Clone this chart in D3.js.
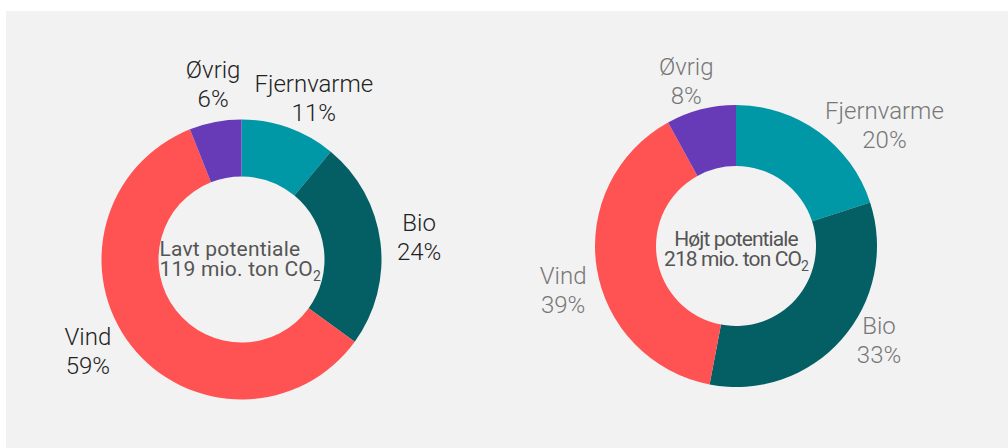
<!DOCTYPE html>
<html>
<head>
<meta charset="utf-8">
<script src="https://cdn.jsdelivr.net/npm/d3@7"></script>
<style>
  body { margin: 0; background: #fff; }
  svg { display: block; }
</style>
</head>
<body>
<svg id="chart" width="1008" height="448"></svg>
<script>
// Two donuts: low vs high potential, share per sector
const categories = ["Fjernvarme", "Bio", "Vind", "Øvrig"]
const lavtValues = [11, 24, 59, 6]
const hoejtValues = [20, 33, 39, 8]
const titles = ["Lavt potentiale", "Højt potentiale"]
const totals = ["119", "218"]

const WIDTH = 1008
const HEIGHT = 448

function drawDonut(svg, values, opts) {
  var color = d3.scaleOrdinal()
    .domain(categories)
    .range(["#0097a7", "#045f65", "#ff5252", "#673ab7"])

  var pie = d3.pie().sort(null).value(d => d.value)
  var data = pie(categories.map((c, i) => ({ name: c, value: values[i] })))

  var arc = d3.arc().innerRadius(opts.inner).outerRadius(opts.outer)
  var labelArc = d3.arc().innerRadius(opts.labelR).outerRadius(opts.labelR)

  var g = svg.append("g")
    .attr("transform", `translate(${opts.cx},${opts.cy})`)

  g.selectAll("path")
    .data(data)
    .join("path")
    .attr("d", arc)
    .attr("fill", d => color(d.data.name))

  // labels sit roughly on one radius, nudged a bit like the original
  var labels = g.selectAll("text.lbl")
    .data(data)
    .join("text")
    .attr("class", "lbl")
    .attr("text-anchor", "middle")
    .attr("font-family", "Roboto")
    .attr("font-weight", 300)
    .attr("font-size", 24)
    .attr("fill", opts.labelColor)
    .attr("transform", d => {
      var c = labelArc.centroid(d)
      var s = opts.shift[d.index] || [0, 0]
      return `translate(${c[0] + s[0]},${c[1] + s[1]})`
    })

  labels.append("tspan").attr("x", 0).attr("y", -6).text(d => d.data.name)
  labels.append("tspan").attr("x", 0).attr("y", 23).text(d => d.data.value + "%")

  // center text
  var ct = g.append("text")
    .attr("text-anchor", opts.anchor)
    .attr("font-family", "Roboto")
    .attr("font-size", 21)
    .attr("letter-spacing", opts.spacing)
    .attr("fill", "#555")
  ct.append("tspan").attr("x", opts.textX).attr("y", opts.textY).text(opts.title)
  var l2 = ct.append("tspan").attr("x", opts.textX).attr("y", opts.textY + 20)
  l2.append("tspan").text(opts.total + " mio. ton CO")
  l2.append("tspan").attr("font-size", 14).attr("dy", 5).text("2")
}

function main() {
  var svg = d3.select("#chart")

  svg.append("rect")
    .attr("x", 6).attr("y", 11)
    .attr("width", WIDTH - 6).attr("height", HEIGHT - 11)
    .attr("fill", "#f2f2f2")

  drawDonut(svg, lavtValues, {
    cx: 241.5, cy: 259.5, inner: 83, outer: 140, labelR: 178,
    labelColor: "#222", title: titles[0], total: totals[0],
    anchor: "start", textX: -82, spacing: 0.2, textY: -4,
    shift: [[12, 6], [1, 0], [-13, -18], [5, -1]]
  })

  // FIXME: label placement of the right chart isn't on one radius
  drawDonut(svg, hoejtValues, {
    cx: 736, cy: 246, inner: 80, outer: 141, labelR: 176,
    labelColor: "#777", title: titles[1], total: totals[1],
    anchor: "middle", textX: 0, spacing: -0.9, textY: 0,
    shift: [[45, 21], [11, -22], [1, 16], [-6, 5]]
  })
}

main()
</script>
</body>
</html>
